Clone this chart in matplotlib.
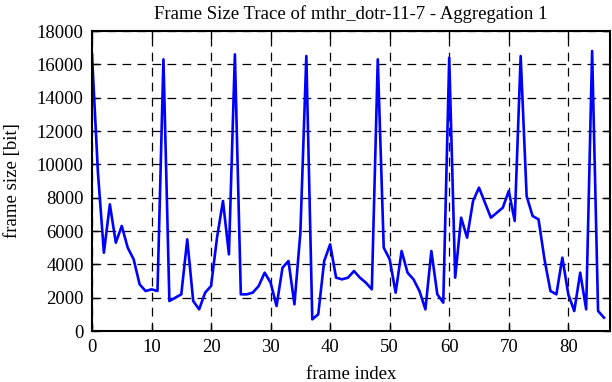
import matplotlib
matplotlib.use("Agg")
import matplotlib.pyplot as plt

frame_index = list(range(87))
frame_size = [
    16600, 9500, 4700, 7600, 5300, 6300, 5000, 4300, 2800, 2400,
    2500, 2400, 16300, 1800, 2000, 2200, 5500, 1800, 1300, 2300,
    2700, 5600, 7800, 4600, 16600, 2200, 2200, 2300, 2700, 3500,
    2900, 1500, 3800, 4200, 1600, 5900, 16500, 700, 1000, 4200,
    5200, 3200, 3100, 3200, 3600, 3200, 2900, 2500, 16300, 5000,
    4300, 2300, 4800, 3500, 3100, 2400, 1300, 4800, 2200, 1700,
    16400, 3200, 6800, 5600, 7800, 8600, 7700, 6800, 7100, 7400,
    8400, 6600, 16500, 8100, 6900, 6700, 4300, 2400, 2200, 4400,
    2200, 1200, 3500, 1300, 16800, 1200, 800,
]
x_ticks = [0, 10, 20, 30, 40, 50, 60, 70, 80]
y_ticks = [0, 2000, 4000, 6000, 8000, 10000, 12000, 14000, 16000, 18000]

plt.rcParams['font.family'] = ['Liberation Serif', 'DejaVu Serif']
fig = plt.figure(figsize=(6.12, 3.82), dpi=100)
ax = fig.add_axes([0.1503, 0.1335, 0.9967 - 0.1503, 0.9188 - 0.1335])
ax.plot(frame_index, frame_size, color='#0000ff', linewidth=1.9)
ax.set_xlim(0, 87)
ax.set_ylim(0, 18000)
ax.set_xticks(x_ticks)
ax.set_yticks(y_ticks)
ax.grid(True, color='black', linestyle=(0, (7, 5)), linewidth=0.9)
ax.tick_params(direction='in', top=True, right=True, length=5, width=1, labelsize=13.5, pad=6)
for s in ax.spines.values():
    s.set_linewidth(1.5)
ax.set_title('Frame Size Trace of mthr_dotr-11-7 - Aggregation 1', fontsize=13.5, pad=9)
ax.set_xlabel('frame index', fontsize=13.5, labelpad=7)
ax.set_ylabel('frame size [bit]', fontsize=13.5, labelpad=11)
fig.savefig('out.png', dpi=100)
